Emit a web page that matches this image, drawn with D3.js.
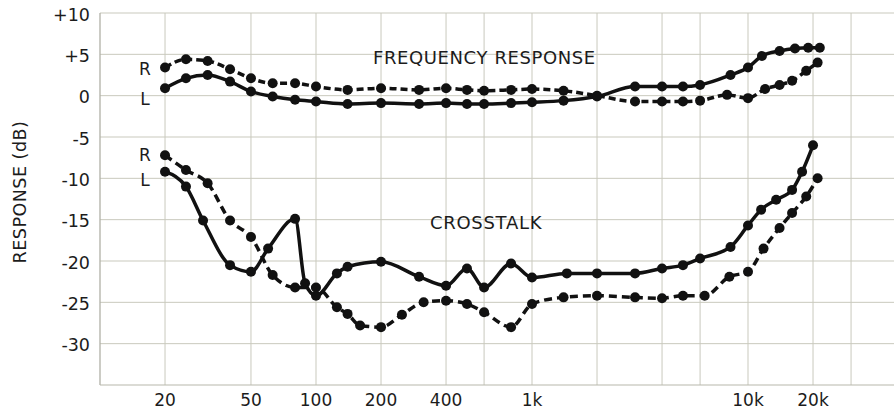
<!DOCTYPE html>
<html>
<head>
<meta charset="utf-8">
<script src="https://cdn.jsdelivr.net/npm/d3@7"></script>
<style>
  html, body { margin: 0; padding: 0; background: #fff; }
  svg { display: block; }
  text { font-family: "DejaVu Sans", sans-serif; fill: #1c1c1c; }
</style>
</head>
<body>
<svg id="chart" width="894" height="413"></svg>
<script>
// ---- data ----
const freqRespR = [[20,3.4],[25,4.4],[31.5,4.2],[40,3.2],[50,2.1],[63,1.5],[80,1.5],[100,1.1],[140,0.7],[200,0.9],[300,0.7],[400,0.9],[500,0.7],[600,0.6],[800,0.7],[1000,0.8],[1400,0.6],[2000,0],[3000,-0.7],[4000,-0.7],[5000,-0.7],[6000,-0.6],[8000,0.1],[10000,-0.3],[12000,0.8],[14000,1.3],[16000,1.8],[18600,3.0],[21000,4.0]];
const freqRespL = [[20,0.9],[25,2.1],[31.5,2.5],[40,1.7],[50,0.5],[63,-0.1],[80,-0.5],[100,-0.7],[140,-1.0],[200,-0.9],[300,-1.0],[400,-0.9],[500,-1.0],[600,-1.0],[800,-0.9],[1000,-0.8],[1400,-0.6],[2000,-0.1],[3000,1.1],[4000,1.1],[5000,1.1],[6000,1.3],[8300,2.5],[10000,3.4],[11600,4.8],[14000,5.4],[16500,5.7],[19000,5.8],[21500,5.8]];
const crossR = [[20,-7.2],[25,-9.0],[31.5,-10.6],[40,-15.1],[50,-17.1],[63,-21.7],[80,-23.2],[100,-23.2],[125,-25.6],[140,-26.4],[160,-27.8],[200,-28.0],[250,-26.5],[315,-25.0],[400,-24.8],[500,-25.2],[600,-26.2],[800,-28.0],[1000,-25.2],[1400,-24.4],[2000,-24.2],[3000,-24.4],[4000,-24.5],[5000,-24.2],[6300,-24.2],[8200,-21.9],[10000,-21.3],[11800,-18.5],[14000,-16.0],[16000,-14.2],[18600,-12.2],[21000,-10.0]];
const crossL = [[20,-9.2],[25,-11.0],[30,-15.1],[40,-20.5],[50,-21.3],[60,-18.5],[80,-14.9],[89,-22.7],[100,-24.2],[125,-21.5],[140,-20.7],[200,-20.1],[300,-21.9],[400,-23.0],[500,-20.9],[600,-23.2],[800,-20.3],[1000,-22.0],[1450,-21.5],[2000,-21.5],[3000,-21.5],[4000,-20.9],[5000,-20.5],[6000,-19.7],[8300,-18.3],[10000,-15.7],[11500,-13.8],[13500,-12.6],[16000,-11.4],[17800,-9.2],[20000,-6.0]];

const yTicks = [10, 5, 0, -5, -10, -15, -20, -25, -30];
const yTickLabels = ["+10", "+5", "0", "-5", "-10", "-15", "-20", "-25", "-30"];
const xGrid = [20, 50, 100, 200, 400, 600, 1000, 2000, 4000, 6000, 10000, 20000, 30000];
const xTicks = [20, 50, 100, 200, 400, 1000, 10000, 20000];
const xTickLabels = ["20", "50", "100", "200", "400", "1k", "10k", "20k"];

// ---- layout ----
const svg = d3.select("#chart");
const x = d3.scaleLog().domain([10, 50000]).range([100, 100 + 216 * Math.log10(5000)]);
const y = d3.scaleLinear().domain([-35, 10]).range([385, 13]);
const right = 894;

const grid = svg.append("g");
grid.selectAll("line.h").data(yTicks).join("line")
  .attr("x1", x(10)).attr("x2", right)
  .attr("y1", d => y(d)).attr("y2", d => y(d))
  .attr("stroke", "#c9c9bd").attr("stroke-width", 1);
grid.selectAll("line.v").data(xGrid).join("line")
  .attr("x1", d => x(d)).attr("x2", d => x(d))
  .attr("y1", y(10)).attr("y2", y(-35))
  .attr("stroke", "#c9c9bd").attr("stroke-width", 1);
grid.append("line").attr("x1", x(10)).attr("x2", x(10)).attr("y1", y(10)).attr("y2", y(-35))
  .attr("stroke", "#b0b0a6").attr("stroke-width", 1.3);
grid.append("line").attr("x1", x(10)).attr("x2", right).attr("y1", y(-35)).attr("y2", y(-35))
  .attr("stroke", "#b8b8ac").attr("stroke-width", 1.2);

// y tick labels
svg.append("g").selectAll("text").data(yTicks).join("text")
  .attr("x", 90).attr("y", d => y(d) + 7.5)
  .attr("text-anchor", "end").attr("font-size", 17.5)
  .text((d, i) => yTickLabels[i]);

// x tick labels
svg.append("g").selectAll("text").data(xTicks).join("text")
  .attr("x", d => x(d)).attr("y", 406)
  .attr("text-anchor", "middle").attr("font-size", 17)
  .text((d, i) => xTickLabels[i]);

// y axis title
svg.append("text")
  .attr("transform", "translate(26,192) rotate(-90)")
  .attr("text-anchor", "middle").attr("font-size", 17.5).attr("letter-spacing", 0.5)
  .text("RESPONSE (dB)");

// series
const line = d3.line().x(d => x(d[0])).y(d => y(d[1])).curve(d3.curveMonotoneX);
const series = [
  { data: freqRespR, dash: "7,4" },
  { data: freqRespL, dash: null },
  { data: crossR, dash: "8,5" },
  { data: crossL, dash: null }
];
series.forEach(s => {
  const g = svg.append("g");
  g.append("path").datum(s.data).attr("d", line)
    .attr("fill", "none").attr("stroke", "#111").attr("stroke-width", 3.5)
    .attr("stroke-dasharray", s.dash).attr("stroke-linejoin", "round");
  g.selectAll("circle").data(s.data).join("circle")
    .attr("cx", d => x(d[0])).attr("cy", d => y(d[1])).attr("r", 5)
    .attr("fill", "#111");
});

// annotations
svg.append("text").attr("x", 373).attr("y", 64).attr("font-size", 18).attr("letter-spacing", 0.6)
  .text("FREQUENCY RESPONSE");
svg.append("text").attr("x", 430).attr("y", 229).attr("font-size", 18).attr("letter-spacing", 0.7)
  .text("CROSSTALK");
const chLabels = [["R", 69], ["L", 99], ["R", 155], ["L", 180]];
svg.append("g").selectAll("text").data(chLabels).join("text")
  .attr("x", 145).attr("y", d => d[1] + 6)
  .attr("text-anchor", "middle").attr("font-size", 17)
  .text(d => d[0]);
</script>
</body>
</html>
